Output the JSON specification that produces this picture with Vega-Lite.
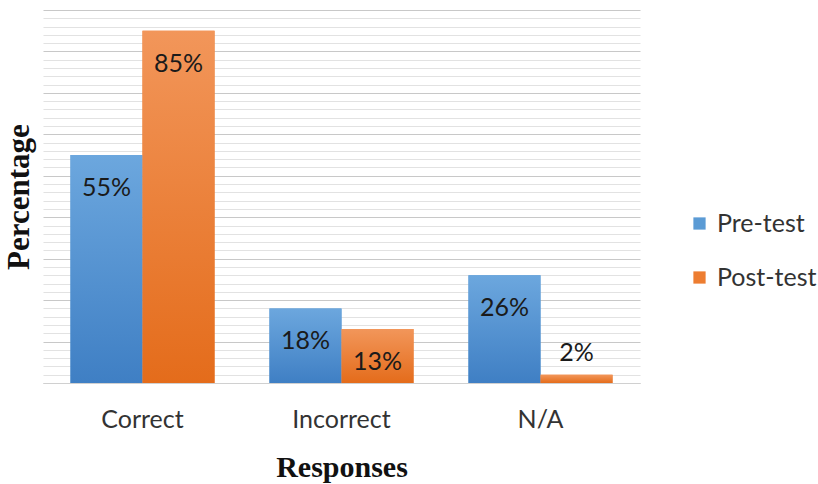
{
  "$schema": "https://vega.github.io/schema/vega-lite/v6.json",
  "width": 597,
  "height": 373,
  "autosize": "none",
  "padding": {"left": 43, "top": 10, "right": 178, "bottom": 101},
  "background": "white",
  "config": {
    "view": {"stroke": null},
    "font": "Lato",
    "text": {"font": "Lato"}
  },
  "data": {
    "values": [
      {"response": "Correct", "test": "Pre-test", "pct": 55},
      {"response": "Correct", "test": "Post-test", "pct": 85},
      {"response": "Incorrect", "test": "Pre-test", "pct": 18},
      {"response": "Incorrect", "test": "Post-test", "pct": 13},
      {"response": "N/A", "test": "Pre-test", "pct": 26},
      {"response": "N/A", "test": "Post-test", "pct": 2}
    ]
  },
  "transform": [{"calculate": "datum.pct + '%'", "as": "label"}],
  "encoding": {
    "x": {
      "field": "response",
      "type": "nominal",
      "sort": ["Correct", "Incorrect", "N/A"],
      "scale": {"paddingInner": 0.276, "paddingOuter": 0.138},
      "axis": {
        "title": "Responses",
        "titleFont": "Liberation Serif",
        "titleFontSize": 30,
        "titleFontWeight": "bold",
        "titleColor": "#111111",
        "titlePadding": 20,
        "labelAngle": 0,
        "labelFont": "Lato",
        "labelFontSize": 25,
        "labelColor": "#333333",
        "labelPadding": 24,
        "ticks": false,
        "domain": true,
        "domainColor": "#d0d0d0",
        "grid": false
      }
    },
    "xOffset": {
      "field": "test",
      "type": "nominal",
      "sort": ["Pre-test", "Post-test"],
      "scale": {"paddingInner": 0, "paddingOuter": 0}
    },
    "y": {
      "field": "pct",
      "type": "quantitative",
      "scale": {"domain": [0, 90], "nice": false},
      "axis": {
        "title": "Percentage",
        "titleFont": "Liberation Serif",
        "titleFontSize": 31,
        "titleFontWeight": "bold",
        "titleColor": "#111111",
        "titlePadding": 8,
        "labels": false,
        "ticks": false,
        "domain": false,
        "values": [0, 2, 4, 6, 8, 10, 12, 14, 16, 18, 20, 22, 24, 26, 28, 30, 32, 34, 36, 38, 40, 42, 44, 46, 48, 50, 52, 54, 56, 58, 60, 62, 64, 66, 68, 70, 72, 74, 76, 78, 80, 82, 84, 86, 88, 90],
        "grid": true,
        "gridColor": {
          "condition": {"test": "datum.value % 10 === 0", "value": "#c8c8c8"},
          "value": "#e2e2e2"
        },
        "gridWidth": 1.2
      }
    }
  },
  "layer": [
    {
      "mark": {"type": "bar"},
      "encoding": {
        "color": {
          "field": "test",
          "type": "nominal",
          "sort": ["Pre-test", "Post-test"],
          "scale": {"domain": ["Pre-test", "Post-test"], "range": ["#5b9bd5", "#ed7d31"]},
          "legend": {
            "title": null,
            "orient": "none",
            "legendX": 644,
            "legendY": 201,
            "symbolType": "square",
            "symbolSize": 150,
            "symbolStrokeWidth": 0,
            "labelFont": "Lato",
            "labelFontSize": 25,
            "labelColor": "#333333",
            "labelOffset": 5,
            "rowPadding": 28
          }
        }
      }
    },
    {
      "transform": [{"filter": "datum.test === 'Pre-test'"}],
      "mark": {
        "type": "bar",
        "color": {
          "gradient": "linear",
          "x1": 0, "y1": 0, "x2": 0, "y2": 1,
          "stops": [
            {"offset": 0, "color": "#6ca7de"},
            {"offset": 1, "color": "#3f7fc4"}
          ]
        }
      }
    },
    {
      "transform": [{"filter": "datum.test === 'Post-test'"}],
      "mark": {
        "type": "bar",
        "color": {
          "gradient": "linear",
          "x1": 0, "y1": 0, "x2": 0, "y2": 1,
          "stops": [
            {"offset": 0, "color": "#f2965a"},
            {"offset": 1, "color": "#e46c1b"}
          ]
        }
      }
    },
    {
      "transform": [{"filter": "datum.pct >= 5"}],
      "mark": {"type": "text", "baseline": "top", "dy": 21, "fontSize": 25, "color": "#1a1a1a"},
      "encoding": {"text": {"field": "label", "type": "nominal"}}
    },
    {
      "transform": [{"filter": "datum.pct < 5"}],
      "mark": {"type": "text", "baseline": "alphabetic", "dy": -14, "fontSize": 25, "color": "#1a1a1a"},
      "encoding": {"text": {"field": "label", "type": "nominal"}}
    }
  ]
}
